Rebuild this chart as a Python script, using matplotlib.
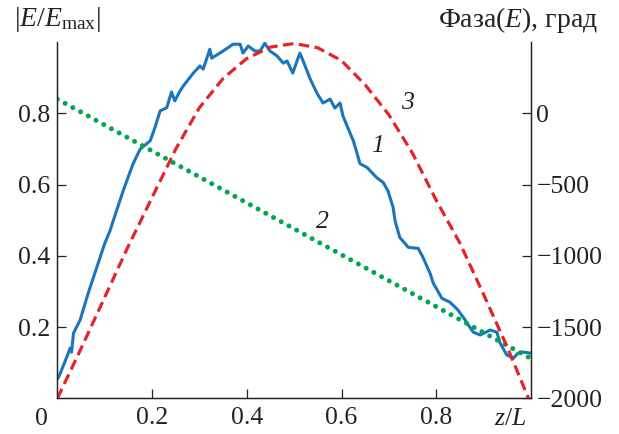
import matplotlib
matplotlib.use("Agg")
import matplotlib.pyplot as plt

plt.rcParams["font.family"] = ["Liberation Serif", "DejaVu Serif"]
plt.rcParams["mathtext.fontset"] = "custom"
plt.rcParams["mathtext.rm"] = "Liberation Serif"
plt.rcParams["mathtext.it"] = "Liberation Serif:italic"

# curve 1: |E/Emax| along z/L (left axis)
z_amp = [0.0, 0.003, 0.015, 0.023, 0.027, 0.030, 0.034, 0.048, 0.065, 0.086,
         0.100, 0.111, 0.118, 0.139, 0.160, 0.175, 0.196, 0.206, 0.217, 0.231,
         0.241, 0.248, 0.259, 0.266, 0.287, 0.301, 0.308, 0.322, 0.326, 0.350,
         0.371, 0.386, 0.392, 0.403, 0.417, 0.428, 0.438, 0.449, 0.464, 0.477,
         0.485, 0.497, 0.512, 0.519, 0.534, 0.548, 0.561, 0.576, 0.586, 0.597,
         0.603, 0.618, 0.625, 0.633, 0.639, 0.654, 0.674, 0.688, 0.698, 0.709,
         0.713, 0.723, 0.741, 0.762, 0.772, 0.787, 0.794, 0.812, 0.829, 0.846,
         0.861, 0.878, 0.893, 0.914, 0.928, 0.935, 0.949, 0.963, 0.973, 0.983,
         1.0]
amp = [0.055, 0.061, 0.100, 0.127, 0.141, 0.130, 0.183, 0.220, 0.295, 0.379,
       0.435, 0.470, 0.499, 0.583, 0.659, 0.700, 0.723, 0.760, 0.807, 0.816,
       0.860, 0.835, 0.863, 0.877, 0.913, 0.933, 0.924, 0.980, 0.955, 0.975,
       0.994, 0.994, 0.969, 0.989, 0.975, 0.975, 0.997, 0.975, 0.961, 0.941,
       0.947, 0.913, 0.969, 0.947, 0.896, 0.857, 0.829, 0.840, 0.815, 0.829,
       0.793, 0.745, 0.723, 0.687, 0.659, 0.648, 0.620, 0.606, 0.583, 0.536,
       0.499, 0.452, 0.424, 0.421, 0.396, 0.351, 0.323, 0.281, 0.270, 0.248,
       0.220, 0.186, 0.178, 0.192, 0.186, 0.155, 0.122, 0.113, 0.127, 0.130,
       0.127]

# curve 2: phase, degrees (right axis)
z_ph2 = [0.0, 0.5, 1.0]
phase2 = [100, -810, -1720]

# curve 3: phase, degrees (right axis)
z_ph3 = [0.0, 0.05, 0.10, 0.15, 0.20, 0.25, 0.30, 0.35, 0.40, 0.45, 0.50,
         0.55, 0.60, 0.65, 0.70, 0.75, 0.80, 0.85, 0.90, 0.95, 0.995]
phase3 = [-2000, -1650, -1290, -930, -590, -250, 40, 245, 385, 465, 490,
          460, 370, 200, -10, -280, -610, -910, -1270, -1640, -2000]

amp_ticks = [0.2, 0.4, 0.6, 0.8]
phase_ticks = [0, -500, -1000, -1500, -2000]
z_ticks = [0.2, 0.4, 0.6, 0.8]

ink = "#222222"
tick_fs = 18.5
title_fs = 20

fig = plt.figure(figsize=(6.19, 4.34), dpi=100)
ax = fig.add_axes([0.0927, 0.082, 0.765, 0.821])
ax2 = ax.twinx()

ax.plot(z_amp, amp, color="#1A75BC", linewidth=2.2, zorder=3)
ax2.plot(z_ph2, phase2, color="#00A651", linewidth=3.6,
         linestyle=(0, (0.01, 1.75)), dash_capstyle="round")
ax2.plot(z_ph3, phase3, color="#E3242B", linewidth=2.3,
         linestyle=(0, (3.3, 1.7)))

ax.set_xlim(0, 1)
ax.set_ylim(0, 1)
ax2.set_ylim(-2000, 500)
ax.set_xticks(z_ticks)
ax.set_xticklabels([f"{v:g}" for v in z_ticks])
ax.set_yticks(amp_ticks)
ax.set_yticklabels([f"{v:g}" for v in amp_ticks])
ax2.set_yticks(phase_ticks)
ax2.set_yticklabels([f"{v:d}".replace("-", "\u2212") for v in phase_ticks])

for a in (ax, ax2):
    a.tick_params(direction="in", length=6.5, width=0.9, labelsize=tick_fs,
                  colors=ink)
    for s in a.spines.values():
        s.set_linewidth(0.9)
        s.set_color(ink)
ax.spines["top"].set_visible(False)
ax2.spines["top"].set_visible(False)
ax.tick_params(axis="x", pad=6)
ax.tick_params(axis="y", pad=5)
ax2.tick_params(axis="y", pad=4)

ax.text(-0.034, -0.058, "0", transform=ax.transAxes, fontsize=tick_fs,
        ha="center", va="center", color=ink)
ax.text(0.956, -0.058, "$z/L$", transform=ax.transAxes, fontsize=tick_fs,
        ha="center", va="center", color=ink)

fig.text(0.022, 0.954, r"$|E/E_{\rm max}|$", fontsize=title_fs, ha="left",
         va="center", color=ink)
fig.text(0.966, 0.954, "Фаза($E$), град", fontsize=title_fs, ha="right",
         va="center", color=ink)

for label, x, y in [("1", 0.677, 0.709), ("2", 0.559, 0.494), ("3", 0.740, 0.829)]:
    ax.text(x, y, label, transform=ax.transAxes, fontsize=tick_fs,
            fontstyle="italic", ha="center", va="center", color=ink)

fig.savefig("out.png", dpi=100)
